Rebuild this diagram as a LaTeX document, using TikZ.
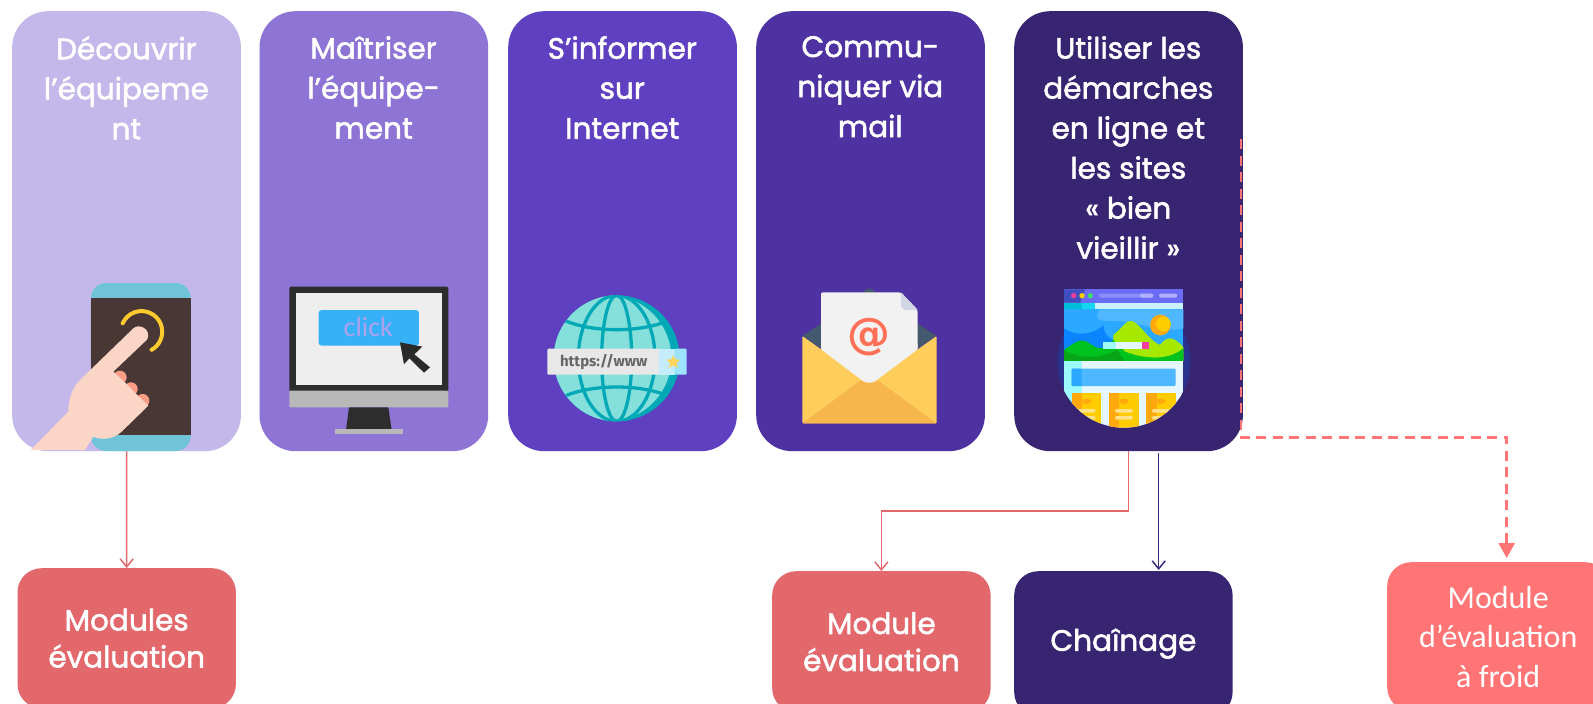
\documentclass[tikz,border=0pt]{standalone}
\usepackage{fontspec}
\usetikzlibrary{arrows.meta,calc}
\setmainfont{Poppins}
\newfontfamily\qs[FakeBold=1.8]{Poppins}
\newfontfamily\calib{Carlito}
\newfontfamily\fira{Fira Sans}
\newfontfamily\dejav{DejaVu Sans}
\definecolor{cA}{HTML}{C4B8EA}
\definecolor{cB}{HTML}{8E74D4}
\definecolor{cC}{HTML}{5F40C1}
\definecolor{cD}{HTML}{4E32A2}
\definecolor{cE}{HTML}{372572}
\definecolor{red1}{HTML}{E2686C}
\definecolor{red2}{HTML}{FF7474}
\definecolor{blu}{HTML}{3E2E82}
\definecolor{skin}{HTML}{FBD5C6}
\definecolor{nail}{HTML}{FB9E85}
\definecolor{dk}{HTML}{2D2D2D}
\definecolor{gry}{HTML}{B8B8B8}
\definecolor{teal1}{HTML}{00A9B5}
\definecolor{aqua}{HTML}{85E0DC}
\definecolor{yel}{HTML}{FFCD5B}
\definecolor{org}{HTML}{FFA90F}
\definecolor{gold}{HTML}{FFCC00}
\definecolor{pinkk}{HTML}{F53FA0}
\definecolor{phoneband}{HTML}{6FC5D7}
\definecolor{phonedark}{HTML}{483734}
\definecolor{arcyel}{HTML}{FFCB2F}
\tikzset{
  card/.style={rounded corners=36pt,minimum width=228.7pt,minimum height=440pt,inner sep=0pt,anchor=north west},
  cardtxt/.style={text=white,align=center,anchor=north,inner sep=0pt,font=\qs\fontsize{29.5}{40}\selectfont},
  bottombox/.style={rounded corners=24pt,minimum width=218.4pt,inner sep=0pt,anchor=north west,text=white,align=center,font=\qs\fontsize{29.5}{37}\selectfont},
  redarrow/.style={draw=red1,line width=1.5pt,-{Straight Barb[length=8pt,width=13pt]}},
  bluearrow/.style={draw=blu,line width=1.5pt,-{Straight Barb[length=8pt,width=13pt]}},
  dasharrow/.style={draw=red2,line width=2.6pt,dash pattern=on 10pt off 6.5pt,-{Triangle[length=15pt,width=16pt,fill=red2]}},
  zoomA/.style={shift={(#1)},x=0.33333pt,y=-0.33333pt},
}
\begin{document}
\begin{tikzpicture}[x=1pt,y=-1pt]
\clip (0,0) rectangle (1593,704);
\fill[white] (0,0) rectangle (1593,704);
% cards
\node[card,fill=cA] (card1) at (12,11) {};
\node[card,fill=cB] (card2) at (259.3,11) {};
\node[card,fill=cC] (card3) at (508,11) {};
\node[card,fill=cD] (card4) at (756,11) {};
\node[card,fill=cE] (card5) at (1014,11) {};
\node[cardtxt] (t1) at (126.4,36) {Découvrir\\l’équipeme\\nt};
\node[cardtxt] (t2) at (373.6,36) {Maîtriser\\l’équipe-\\ment};
\node[cardtxt] (t3) at (622.3,36) {S’informer\\sur\\Internet};
\node[cardtxt] (t4) at (870.3,36) {Commu-\\niquer via\\mail};
\node[cardtxt] (t5) at (1128.3,36) {Utiliser les\\démarches\\en ligne et\\les sites\\« bien\\vieillir »};
% bottom boxes
\node[bottombox,fill=red1,minimum height=140pt] (box1) at (17.3,568) {Modules\\évaluation};
\node[bottombox,fill=red1,minimum height=141pt] (box2) at (772,571) {Module\\évaluation};
\node[bottombox,fill=cE,minimum height=145pt] (box3) at (1014,571) {Chaînage};
\node[bottombox,fill=red2,minimum height=149pt,minimum width=222pt,font=\calib\fontsize{32}{39.5}\selectfont] (box4) at (1387,562) {Module\\d’évaluation\\à froid};
% connectors
\draw[redarrow] (card1.south) -- (box1.north);
\coordinate (r0) at (1128.3,451);
\coordinate (r1) at (1128.3,511);
\draw[redarrow] (r0) -- (r1) -| (box2.north);
\coordinate (b0) at (1158.7,453);
\coordinate (b1) at (1158.7,570);
\draw[bluearrow] (b0) -- (b1);
\coordinate (d0) at (1241,139);
\coordinate (d1) at (1241,437.5);
\coordinate (d2) at (1506.7,437.5);
\coordinate (d3) at (1506.7,558);
\draw[dasharrow] (d0) -- (d1) -- (d2) -- (d3);
% phone + hand
\begin{scope}[zoomA={0,260}]
\fill[phoneband,rounded corners=15pt] (273,69) rectangle (572,573);
\fill[phonedark] (273,115) rectangle (572,525);
\draw[arcyel,line width=4pt,line cap=round] (368,190) arc[start angle=204,end angle=421,radius=62];
\fill[nail] (360,352) circle[radius=20];
\fill[nail] (393,387) circle[radius=20];
\fill[nail] (428,422) circle[radius=20];
\fill[skin] (92,570) -- (205,455) .. controls (205,420) and (215,385) .. (240,360) -- (400,205) .. controls (415,190) and (455,205) .. (442,238) -- (340,335) -- (380,372) -- (412,405) -- (445,437) -- (365,515) .. controls (340,540) and (300,540) .. (280,530) -- (255,570) -- cycle;
\end{scope}
% monitor
\begin{scope}[zoomA={0,260}]
\fill[dk,rounded corners=2pt] (868,80) rectangle (1345,395);
\fill[color={rgb,255:red,238;green,238;blue,238}] (887,100) rectangle (1326,374);
\fill[gry,rounded corners=1pt] (868,392) rectangle (1345,442);
\fill[dk] (1047,442) -- (1165,442) -- (1175,510) -- (1038,510) -- cycle;
\fill[gry] (1004,508) rectangle (1209,522);
\fill[color={rgb,255:red,54;green,177;blue,248},rounded corners=3pt] (956,150) rectangle (1257,257);
\node[text={rgb,255:red,175;green,160;blue,235},font=\calib\fontsize{28}{28}\selectfont,inner sep=0pt] (clicklbl) at (1105,200) {click};
\fill[color={rgb,255:red,42;green,42;blue,42}] (1200,247) -- (1267,260) -- (1243,283) -- (1290,322) -- (1272,338) -- (1228,295) -- (1212,313) -- cycle;
\end{scope}
% globe
\begin{scope}[zoomA={500,260}]
\fill[teal1] (350,295) circle[radius=189];
\begin{scope}
\clip (350,295) circle[radius=189];
\fill[aqua] (325,295) circle[radius=189];
\draw[teal1,line width=3.3pt] (350,295) ellipse[x radius=45,y radius=189];
\draw[teal1,line width=3.3pt] (350,295) ellipse[x radius=115,y radius=189];
\draw[teal1,line width=3.3pt] (195,182) .. controls (280,218) and (420,218) .. (505,182);
\draw[teal1,line width=3.3pt] (195,408) .. controls (280,372) and (420,372) .. (505,408);
\end{scope}
\fill[color={rgb,255:red,232;green,232;blue,232},rounded corners=1pt] (142,266) rectangle (480,344);
\fill[color={rgb,255:red,197;green,236;blue,251}] (478,266) rectangle (526,344);
\fill[color={rgb,255:red,157;green,227;blue,255},rounded corners=1pt] (524,266) rectangle (560,344);
\node[text={rgb,255:red,102;green,102;blue,102},font=\fira\bfseries\fontsize{15}{15}\selectfont,inner sep=0pt] (httplbl) at (311,305) {https://www};
\fill[color={rgb,255:red,255;green,212;blue,92}] (520,285)
 -- (526,298) -- (541,299) -- (530,309) -- (533,324) -- (520,316) -- (507,324) -- (510,309) -- (499,299) -- (514,298) -- cycle;
\end{scope}
% envelope
\begin{scope}[zoomA={500,260}]
\fill[color={rgb,255:red,68;green,89;blue,110}] (1108,106) circle[radius=20];
\fill[color={rgb,255:red,68;green,89;blue,110}] (907,228) -- (1108,95) -- (1310,228) -- (1108,360) -- cycle;
\fill[color={rgb,255:red,242;green,242;blue,242},rounded corners=2pt] (963,97) -- (1203,97) -- (1253,150) -- (1253,400) -- (963,400) -- cycle;
\fill[color={rgb,255:red,208;green,214;blue,228}] (1203,97) -- (1253,150) -- (1213,150) -- (1203,140) -- cycle;
\fill[yel,rounded corners=1pt] (907,228) -- (1095,362) -- (1120,362) -- (1310,228) -- (1310,490) -- (907,490) -- cycle;
\fill[color={rgb,255:red,247;green,182;blue,76},rounded corners=1pt] (907,490) -- (1095,352) -- (1120,352) -- (1310,490) -- cycle;
\fill[color={rgb,255:red,242;green,242;blue,242},rounded corners=2pt] (963,268) -- (1095,368) -- (1120,368) -- (1253,268) -- (1253,250) -- (963,250) -- cycle;
\node[text={rgb,255:red,255;green,112;blue,88},font=\dejav\bfseries\fontsize{43}{43}\selectfont,inner sep=0pt] (atlbl) at (1108,232) {@};
\end{scope}
% website
\begin{scope}[zoomA={990,260}]
\fill[color={rgb,255:red,42;green,50;blue,144}] (402,303) circle[radius=199];
\begin{scope}
\clip (222,88) rectangle (580,303);
\fill[color={rgb,255:red,43;green,168;blue,255}] (222,88) rectangle (580,303);
\fill[color={rgb,255:red,79;green,184;blue,255}] (330,148) .. controls (300,190) and (350,180) .. (400,185) .. controls (460,190) and (520,220) .. (580,205) -- (580,148) -- cycle;
\fill[color={rgb,255:red,10;green,132;blue,255}] (222,205) .. controls (260,230) and (310,225) .. (340,195) .. controls (340,230) and (370,240) .. (370,240) -- (370,303) -- (222,303) -- cycle;
\fill[org] (511,195) circle[radius=31];
\fill[gold] (520,192) circle[radius=22];
\fill[color={rgb,255:red,166;green,232;blue,0}] (370,225) .. controls (400,200) and (410,180) .. (425,183) .. controls (445,185) and (480,245) .. (510,255) .. controls (525,235) and (545,220) .. (580,262) -- (580,303) -- (370,303) -- cycle;
\fill[color={rgb,255:red,0;green,194;blue,31}] (222,270) .. controls (250,250) and (270,235) .. (290,245) .. controls (310,255) and (320,270) .. (340,262) -- (370,240) -- (405,275) .. controls (470,300) and (540,300) .. (580,265) -- (580,303) -- (222,303) -- cycle;
\fill[color={rgb,255:red,8;green,165;blue,25}] (222,270) .. controls (270,300) and (340,295) .. (380,270) -- (405,303) -- (222,303) -- cycle;
\fill[color={rgb,255:red,106;green,108;blue,245}] (222,88) rectangle (580,128);
\fill[color={rgb,255:red,63;green,79;blue,191}] (222,88) -- (285,88) -- (270,128) -- (222,128) -- cycle;
\fill[color={rgb,255:red,200;green,243;blue,252}] (222,128) rectangle (580,148);
\fill[color={rgb,255:red,18;green,216;blue,240}] (222,128) rectangle (316,148);
\fill[color={rgb,255:red,0;green,190;blue,215}] (222,128) rectangle (275,148);
\end{scope}
\fill[pinkk] (251,107) circle[radius=8];
\fill[gold] (276,107) circle[radius=8];
\fill[color={rgb,255:red,61;green,220;blue,111}] (301,107) circle[radius=8];
\fill[color={rgb,255:red,140;green,140;blue,251},rounded corners=2pt] (327,101) rectangle (490,113);
\fill[color={rgb,255:red,176;green,176;blue,255},rounded corners=2pt] (450,101) rectangle (490,113);
\fill[color={rgb,255:red,176;green,176;blue,255},rounded corners=2pt] (507,101) rectangle (562,113);
\fill[color={rgb,255:red,230;green,247;blue,251}] (340,245) rectangle (476,266);
\fill[color={rgb,255:red,159;green,251;blue,255}] (340,245) rectangle (377,266);
\fill[pinkk] (455,245) rectangle (476,266);
\begin{scope}
\clip (402,303) circle[radius=200];
\clip (222,303) rectangle (580,510);
\fill[color={rgb,255:red,229;green,246;blue,252}] (222,303) rectangle (580,510);
\fill[color={rgb,255:red,155;green,251;blue,255}] (222,303) rectangle (276,510);
\fill[color={rgb,255:red,77;green,184;blue,255},rounded corners=1pt] (245,326) rectangle (557,378);
\fill[color={rgb,255:red,43;green,168;blue,255},rounded corners=1pt] (245,326) rectangle (275,378);
\foreach \cx/\cy in {245/276,357/388,468/500}{
  \fill[gold] (\cx,399) rectangle ++(89,120);
  \fill[org] (\cx,399) rectangle (\cy,519);
  \fill[org] ($(\cx,424)+(45,0)$) ellipse[x radius=14,y radius=8];
  \fill[color={rgb,255:red,255;green,226;blue,138},rounded corners=2pt] ($(\cx,447)+(18,0)$) rectangle ++(54,11);
  \fill[color={rgb,255:red,255;green,226;blue,138},rounded corners=2pt] ($(\cx,468)+(18,0)$) rectangle ++(54,11);
}
\end{scope}
\end{scope}
\end{tikzpicture}
\end{document}
